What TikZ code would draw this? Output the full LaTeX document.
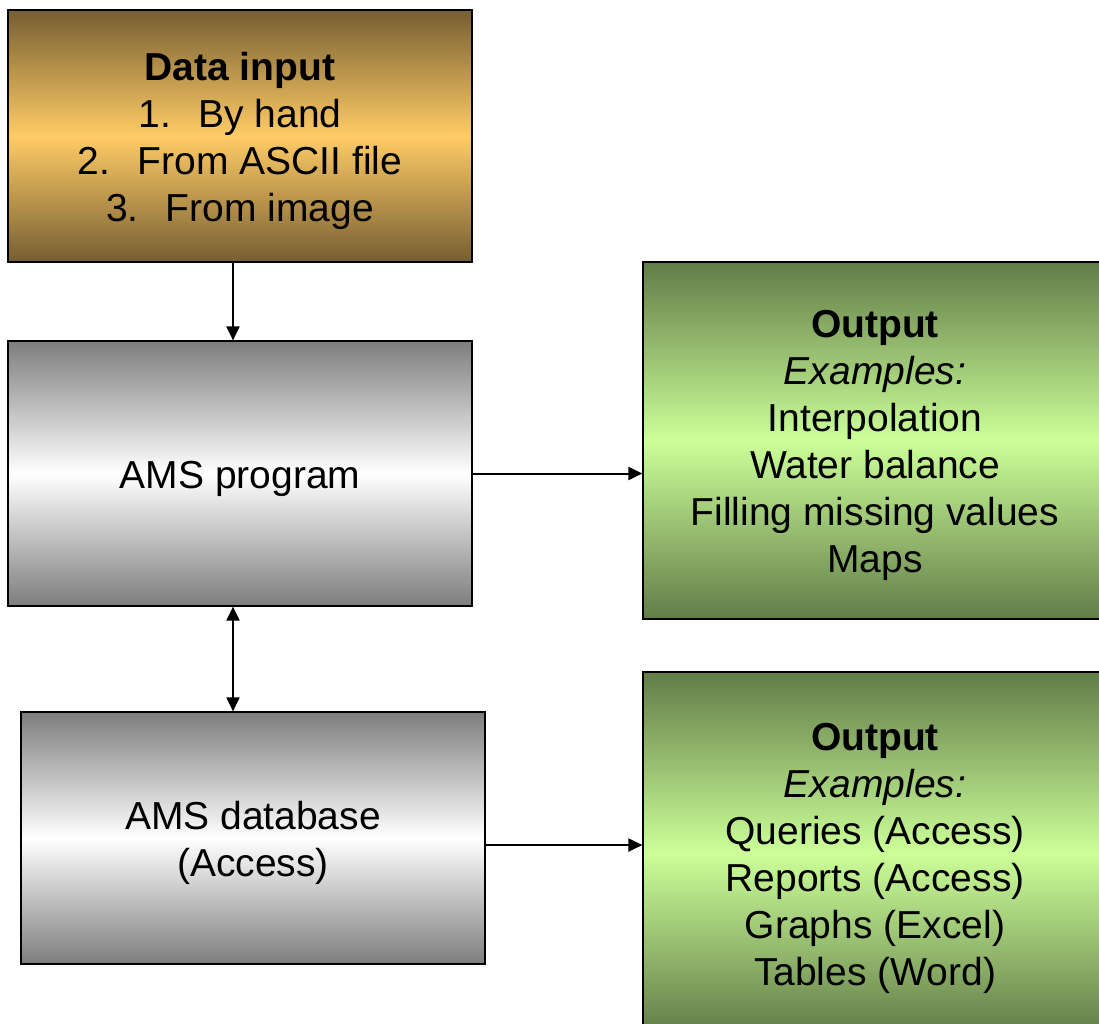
\documentclass[tikz,border=0pt]{standalone}
\usepackage{fontspec}
\setmainfont{Liberation Sans}
\usetikzlibrary{arrows.meta}
\definecolor{brownD}{RGB}{118,94,50}
\definecolor{brownL}{RGB}{255,204,102}
\definecolor{grayD}{RGB}{125,125,125}
\definecolor{greenD}{RGB}{98,124,72}
\definecolor{greenL}{RGB}{204,255,153}
\newcommand{\toppad}{\rule{0pt}{38pt}}
\tikzset{
  boxbase/.style={draw=black, line width=1.2pt, rectangle, align=center, inner sep=0pt,
    minimum width=464pt, font=\fontsize{39}{47}\selectfont},
  brownbox/.style={boxbase, top color=brownD, bottom color=brownD, middle color=brownL},
  graybox/.style={boxbase, top color=grayD, bottom color=grayD, middle color=white},
  greenbox/.style={boxbase, top color=greenD, bottom color=greenD, middle color=greenL},
  arr/.style={line width=2pt, -{Triangle[length=14pt,width=13pt]}},
  darr/.style={line width=2pt, {Triangle[length=14pt,width=13pt]}-{Triangle[length=14pt,width=13pt]}}
}
\begin{document}
\begin{tikzpicture}[x=1pt,y=-1pt]
\useasboundingbox (0,0) rectangle (1099,1023);
\clip (0,0) rectangle (1099,1023);
\node[brownbox, minimum height=252pt] (data) at (240,136)
  {\toppad\textbf{Data input}\\1.\hspace{0.7em}By hand\\2.\hspace{0.7em}From ASCII file\\3.\hspace{0.7em}From image};
\node[graybox, minimum height=265pt] (prog) at (240,473.5) {\toppad AMS program};
\node[graybox, minimum height=252pt] (db) at (253,838) {\toppad AMS database\\(Access)};
\node[greenbox, minimum height=357pt] (out1) at (875,440.5)
  {\toppad\textbf{Output}\\\textit{Examples:}\\Interpolation\\Water balance\\Filling missing values\\Maps};
\node[greenbox, minimum height=362pt] (out2) at (875,853)
  {\toppad\textbf{Output}\\\textit{Examples:}\\Queries (Access)\\Reports (Access)\\Graphs (Excel)\\Tables (Word)};
\coordinate (cx) at (233,0);
\coordinate (cy) at (0,845);
\draw[arr] (data.south -| cx) -- (prog.north -| cx);
\draw[darr] (prog.south -| cx) -- (db.north -| cx);
\draw[arr] (prog.east) -- (prog.east -| out1.west);
\draw[arr] (db.east |- cy) -- (out2.west |- cy);
\end{tikzpicture}
\end{document}
